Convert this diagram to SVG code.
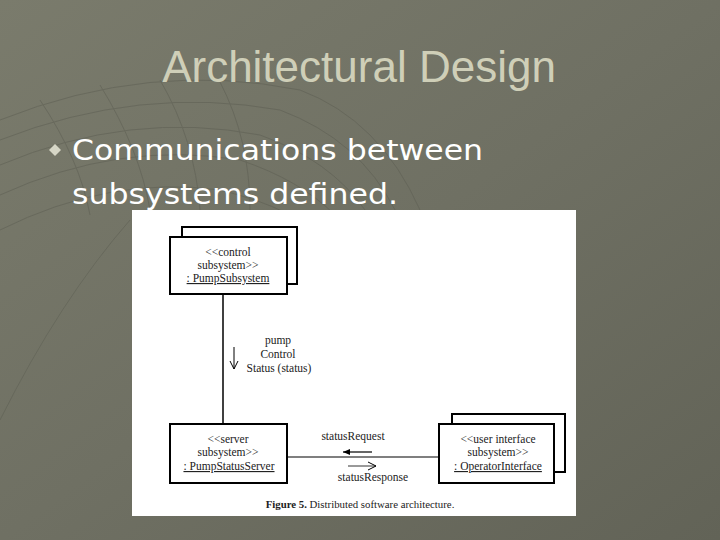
<svg xmlns="http://www.w3.org/2000/svg" width="720" height="540" viewBox="0 0 720 540">
<defs>
<linearGradient id="bg" x1="0" y1="0" x2="1" y2="1">
<stop offset="0" stop-color="#7a7b6c"/>
<stop offset="0.5" stop-color="#6f7063"/>
<stop offset="1" stop-color="#626357"/>
</linearGradient>
<marker id="open" markerWidth="10" markerHeight="10" refX="9" refY="5" orient="auto" markerUnits="userSpaceOnUse">
<path d="M1,1 L9,5 L1,9" fill="none" stroke="#000" stroke-width="1"/>
</marker>
<marker id="filled" markerWidth="8" markerHeight="6" refX="7" refY="3" orient="auto" markerUnits="userSpaceOnUse">
<path d="M0,0 L7,3 L0,6 Z" fill="#000"/>
</marker>
<style>
.box{fill:#fff;stroke:#000;stroke-width:2}
.t{font-family:"Liberation Serif","Times New Roman",serif;font-size:11.5px;fill:#222;text-anchor:middle}
.u{text-decoration:underline}
.grid{fill:none;stroke:#5c5d52;stroke-width:1;opacity:0.5}
</style>
</defs>
<rect width="720" height="540" fill="url(#bg)"/>
<g class="grid">
<path d="M0,120 Q150,60 300,90 Q380,120 420,210"/>
<path d="M0,140 Q140,85 280,110 Q360,140 395,210"/>
<path d="M0,165 Q130,110 260,135 Q330,160 365,210"/>
<path d="M0,195 Q120,140 240,160 Q300,180 335,215"/>
<path d="M0,230 Q110,175 220,190 Q280,205 305,225"/>
<path d="M0,420 Q60,300 130,220"/>
<path d="M40,100 Q80,160 90,215"/>
<path d="M100,85 Q140,150 150,210"/>
<path d="M160,80 Q195,140 200,210"/>
<path d="M220,82 Q250,140 250,210"/>
</g>
<text x="359" y="82" font-family="Liberation Sans,Arial,sans-serif" font-size="44" fill="#cfcfb8" text-anchor="middle">Architectural Design</text>
<path d="M55,144 L61,150 L55,156 L49,150 Z" fill="#d6d6c6"/>
<text x="72" y="160" font-family="DejaVu Sans,Verdana,sans-serif" font-size="29" fill="#ffffff" textLength="411" lengthAdjust="spacingAndGlyphs">Communications between</text>
<text x="72" y="204" font-family="DejaVu Sans,Verdana,sans-serif" font-size="29" fill="#ffffff" textLength="326" lengthAdjust="spacingAndGlyphs">subsystems defined.</text>
<rect x="132" y="210" width="444" height="306" fill="#fff"/>
<g id="connectors" stroke="#000">
<line x1="223" y1="294" x2="223" y2="424" stroke-width="1.5"/>
<line x1="287" y1="457" x2="439" y2="457" stroke-width="1.2"/>
<line x1="234" y1="347" x2="234" y2="369" stroke-width="1" marker-end="url(#open)"/>
<line x1="372" y1="452" x2="343" y2="452" stroke-width="1.2" marker-end="url(#filled)"/>
<line x1="348" y1="466" x2="376" y2="466" stroke-width="0.8" marker-end="url(#open)"/>
</g>
<g id="labels">
<text class="t" x="278" y="344">pump</text>
<text class="t" x="278" y="358">Control</text>
<text class="t" x="279" y="372">Status (status)</text>
<text class="t" x="353" y="440">statusRequest</text>
<text class="t" x="373" y="481">statusResponse</text>
</g>
<g id="pumpSubsystem">
<rect class="box" x="182" y="227" width="115" height="57"/>
<rect class="box" x="170" y="237" width="117" height="57"/>
<text class="t" x="228" y="256">&lt;&lt;control</text>
<text class="t" x="228" y="269">subsystem&gt;&gt;</text>
<text class="t u" x="228" y="282">: PumpSubsystem</text>
</g>
<g id="pumpStatusServer">
<rect class="box" x="170" y="424" width="117" height="59"/>
<text class="t" x="228" y="443">&lt;&lt;server</text>
<text class="t" x="228" y="456">subsystem&gt;&gt;</text>
<text class="t u" x="229" y="470">: PumpStatusServer</text>
</g>
<g id="operatorInterface">
<rect class="box" x="452" y="414" width="113" height="58"/>
<rect class="box" x="439" y="424" width="115" height="59"/>
<text class="t" x="498" y="443">&lt;&lt;user interface</text>
<text class="t" x="498" y="456">subsystem&gt;&gt;</text>
<text class="t u" x="498" y="470">: OperatorInterface</text>
</g>
<text x="360" y="508" font-family="Liberation Serif,Times New Roman,serif" font-size="10.8" fill="#222" text-anchor="middle"><tspan font-weight="bold">Figure 5.</tspan>  Distributed software architecture.</text>
</svg>
